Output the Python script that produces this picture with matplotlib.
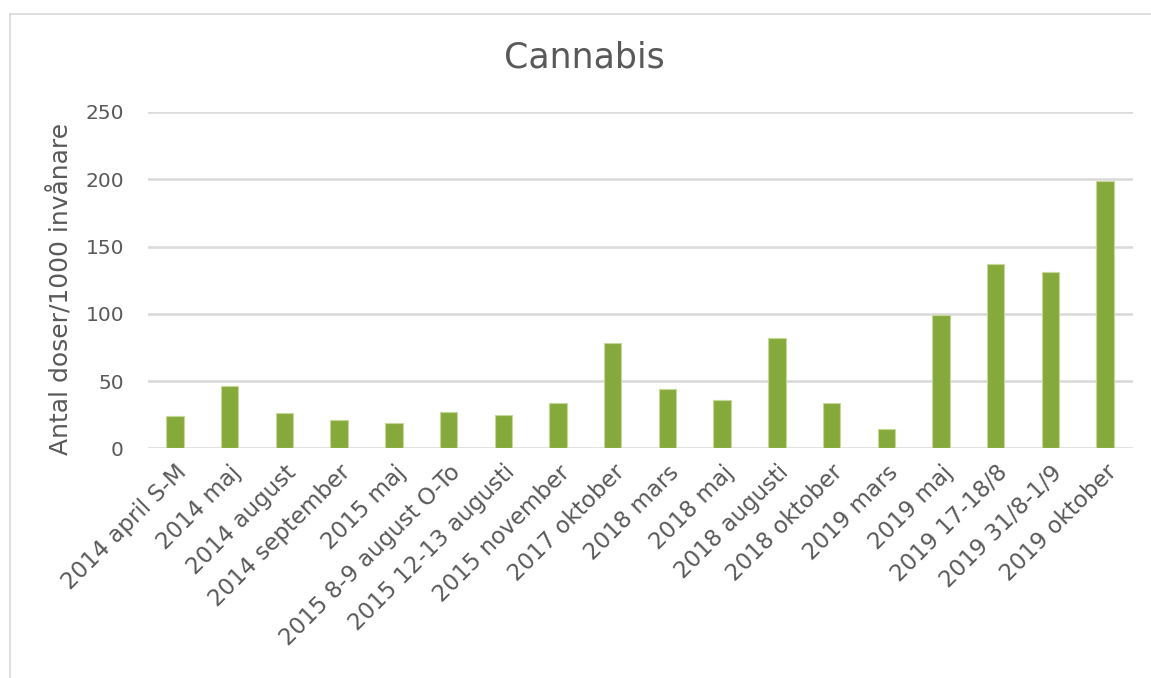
import matplotlib.pyplot as plt
import numpy as np
from matplotlib.lines import Line2D

# kategorier och värden (antal doser per 1000 invånare)
labels = ["2014 april S-M", "2014 maj", "2014 august", "2014 september",
          "2015 maj", "2015 8-9 august O-To", "2015 12-13 augusti",
          "2015 november", "2017 oktober", "2018 mars", "2018 maj",
          "2018 augusti", "2018 oktober", "2019 mars", "2019 maj",
          "2019 17-18/8", "2019 31/8-1/9", "2019 oktober"]
values = [24, 46, 26, 21, 19, 27, 25, 34, 78, 44, 36, 82, 34, 14, 99, 137, 131, 199]
yticks = [0, 50, 100, 150, 200, 250]

textcolor = "#595959"
plt.rcParams['font.family'] = ['DejaVu Sans']

fig = plt.figure(figsize=(11.51, 6.78), dpi=100)
W, H = 1151, 678

# ram runt diagrammet (beskuren till höger och nedtill)
fig.lines.append(Line2D([10 / W, 1.1], [1 - 14 / H, 1 - 14 / H], transform=fig.transFigure,
                        color="#D9D9D9", linewidth=1.2))
fig.lines.append(Line2D([10 / W, 10 / W], [-0.1, 1 - 14 / H], transform=fig.transFigure,
                        color="#D9D9D9", linewidth=1.2))

ax = fig.add_axes([147.6 / W, 1 - 448.3 / H, (1132.5 - 147.6) / W, (448.3 - 112) / H])

x = np.arange(len(values))
ax.bar(x, values, width=0.32, color="#86A93B", edgecolor="#C5D89A", linewidth=0.8, zorder=3)

ax.set_xlim(-0.5, len(values) - 0.5)
ax.set_ylim(0, 250)
ax.set_yticks(yticks)
ax.yaxis.grid(True, color="#D9D9D9", linewidth=1.8, zorder=0)
ax.tick_params(axis='both', length=0, colors=textcolor, labelsize=14.5)
ax.tick_params(axis='y', pad=17)
ax.tick_params(axis='x', pad=9, labelsize=16.5)
ax.set_xticks(x)
ax.set_xticklabels(labels, rotation=45, ha='right', rotation_mode='anchor')
for spine in ax.spines.values():
    spine.set_visible(False)

ax.set_ylabel("Antal doser/1000 invånare", fontsize=18, color=textcolor)
ax.yaxis.set_label_coords(-0.075, 0.474)
fig.text(584 / W, 1 - 57 / H, "Cannabis", ha='center', va='center',
         fontsize=25, color=textcolor)

fig.savefig("out.png", dpi=100)
